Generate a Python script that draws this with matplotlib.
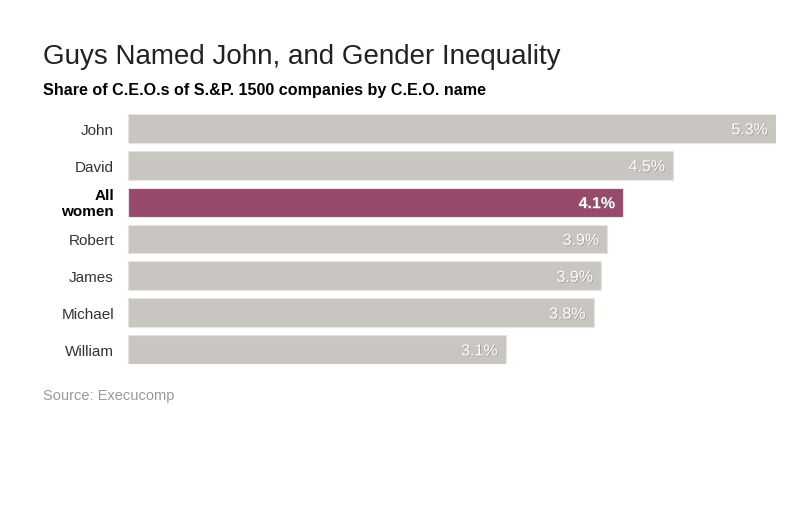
import matplotlib
matplotlib.use("Agg")
import matplotlib.pyplot as plt
import matplotlib.patheffects as pe

plt.rcParams['font.family'] = ['Liberation Sans', 'DejaVu Sans']

# data
names = ['John', 'David', 'All\nwomen', 'Robert', 'James', 'Michael', 'William']
shares = [5.3, 4.46, 4.05, 3.92, 3.87, 3.81, 3.09]
value_labels = ['5.3%', '4.5%', '4.1%', '3.9%', '3.9%', '3.8%', '3.1%']
highlight = 'All\nwomen'

GRAY = '#c9c6c2'
PLUM = '#974a6c'

fig = plt.figure(figsize=(8, 5.31), dpi=100)
ax = fig.add_axes([128/800, 1 - 364/531, (776-128)/800, 250/531])

ypos = list(range(len(names)))
colors = [PLUM if n == highlight else GRAY for n in names]
h = 0.784
ax.barh(ypos, shares, height=h, color=colors, edgecolor='#e6e4e1', linewidth=0.8)
ax.set_xlim(0, 5.3)
ax.set_ylim(len(names) - 1 + h/2, -h/2)
ax.axis('off')

shadow = [pe.withSimplePatchShadow(offset=(0.6, -0.6), shadow_rgbFace='#8a8580', alpha=0.6)]
for y, n, v, lab in zip(ypos, names, shares, value_labels):
    bold = n == highlight
    ax.text(v - 0.065, y + 0.04, lab, ha='right', va='center', color='white',
            fontsize=11.5, fontweight='bold' if bold else 'normal', path_effects=shadow)
    ax.text(-0.115, y + 0.06, n, ha='right', va='center', color='black' if bold else '#333333',
            fontsize=11, fontweight='bold' if bold else 'normal', linespacing=1.2)

fig.text(43/800, 1 - 57/531, 'Guys Named John, and Gender Inequality', fontsize=20,
         color='#222222', va='center', ha='left')
fig.text(43/800, 1 - 90/531, 'Share of C.E.O.s of S.&P. 1500 companies by C.E.O. name',
         fontsize=11.6, fontweight='bold', color='black', va='center', ha='left')
fig.text(43/800, 1 - 396/531, 'Source: Execucomp', fontsize=10.5, color='#999999',
         va='center', ha='left')

fig.savefig('out.png', dpi=100, facecolor='white')
